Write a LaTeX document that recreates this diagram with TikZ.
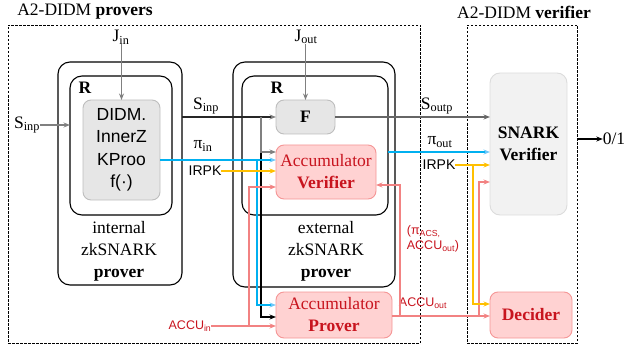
\documentclass[tikz,border=0pt]{standalone}
\usepackage{fontspec}
\setmainfont{Liberation Serif}
\setsansfont{Liberation Sans}
\usetikzlibrary{positioning, arrows.meta}
\definecolor{redtx}{RGB}{200,20,30}
\definecolor{pinkln}{RGB}{242,130,130}
\definecolor{pinkfl}{RGB}{255,210,210}
\definecolor{pinkbd}{RGB}{245,150,150}
\definecolor{bluln}{RGB}{0,176,240}
\definecolor{blutip}{RGB}{110,200,250}
\definecolor{orgln}{RGB}{255,192,0}
\definecolor{grayfl}{RGB}{230,230,230}
\definecolor{graybd}{RGB}{190,190,190}
\definecolor{snarkfl}{RGB}{242,242,242}
\definecolor{snarkbd}{RGB}{220,220,220}

\begin{document}
\begin{tikzpicture}[x=1pt, y=-1pt,
  every node/.style={font=\fontsize{17.5}{22}\selectfont, inner sep=0pt, outer sep=0pt},
  frame/.style={draw, line width=0.7pt, dash pattern=on 2.5pt off 1.5pt},
  wrap/.style={draw, line width=1.1pt, rounded corners=12pt},
  grybox/.style={draw=graybd, fill=grayfl, line width=0.9pt, rounded corners=8pt, align=center},
  snarkbox/.style={draw=snarkbd, fill=snarkfl, line width=0.9pt, rounded corners=10pt, align=center},
  accbox/.style={draw=pinkbd, fill=pinkfl, line width=0.9pt, rounded corners=8pt, align=center, text=redtx},
  lbl/.style={align=center},
  sml/.style={font=\sffamily\fontsize{14}{16}\selectfont},
  acl/.style={font=\sffamily\fontsize{12.5}{15}\selectfont, text=redtx},
  karr/.style={-{Stealth[length=6.5pt, width=5pt]}, line width=1.2pt},
  garr/.style={-{Stealth[length=6.5pt, width=5pt, color=gray]}, line width=1.2pt, draw=gray},
  sarr/.style={-{Stealth[length=6.5pt, width=5pt, color=gray]}, line width=1.2pt, draw=black!85},
  barr/.style={-{Stealth[length=6.5pt, width=5pt, color=blutip]}, line width=1.2pt, draw=bluln},
  oarr/.style={-{Stealth[length=6.5pt, width=5pt]}, line width=1.2pt, draw=orgln},
  parr/.style={-{Stealth[length=6.5pt, width=5pt]}, line width=1.2pt, draw=pinkln}
]
\useasboundingbox (0,0) rectangle (629,350);

% frames and titles
\node[frame, minimum width=412pt, minimum height=318pt] (provbox) at (214,184) {};
\node[frame, minimum width=110pt, minimum height=318pt] (verbox) at (522,184) {};
\node (provtitle) at (85,12) {A2-DIDM \textbf{provers}};
\node (vertitle) at (524,12) {A2-DIDM \textbf{verifier}};

% internal prover
\node[wrap, minimum width=124pt, minimum height=223pt] (intout) at (120,173.5) {};
\node[wrap, minimum width=102pt, minimum height=139pt] (intr) at (121,145.5) {};
\node[grybox, font=\sffamily\fontsize{17.5}{22.5}\selectfont, minimum width=77pt, minimum height=100pt] (didm) at (121.5,150) {DIDM.\\InnerZ\\KProo\\f(·)};
\node (intrlbl) at (85,88) {\textbf{R}};
\node[lbl] (intlbl) at (119,251) {internal\\zkSNARK\\\textbf{prover}};

% external prover
\node[wrap, minimum width=162pt, minimum height=225pt] (extout) at (314,174.5) {};
\node[wrap, minimum width=146pt, minimum height=139pt] (extr) at (315,145.5) {};
\node[grybox, minimum width=59pt, minimum height=34pt] (fbox) at (305.5,117) {\textbf{F}};
\node[accbox, minimum width=100pt, minimum height=54pt] (accv) at (326,172) {Accumulator\\\textbf{Verifier}};
\node (extrlbl) at (277,88) {\textbf{R}};
\node[lbl] (extlbl) at (326,251) {external\\zkSNARK\\\textbf{prover}};
\node[accbox, minimum width=116pt, minimum height=46pt] (accp) at (334,315) {Accumulator\\\textbf{Prover}};

% verifier side
\node[snarkbox, minimum width=77pt, minimum height=142pt] (snark) at (528.5,144) {\textbf{SNARK}\\\textbf{Verifier}};
\node[accbox, minimum width=82pt, minimum height=46pt] (decider) at (531,315) {\textbf{Decider}};
\node (result) at (614,139) {0/1};

% labels
\node (jin) at (121,37) {J\textsubscript{in}};
\node (jout) at (306,37) {J\textsubscript{out}};
\node (sinl) at (27,125) {S\textsubscript{inp}};
\node (sinm) at (206,106) {S\textsubscript{inp}};
\node (soutp) at (437,106) {S\textsubscript{outp}};
\node (piin) at (203,146) {π\textsubscript{in}};
\node (piout) at (440,142) {π\textsubscript{out}};
\node[sml] (irpka) at (205,171) {IRPK};
\node[sml] (irpkb) at (439,165) {IRPK};
\node[acl] (accuin) at (190,326) {ACCU\textsubscript{in}};
\node[acl] (accuout) at (423,303) {ACCU\textsubscript{out}};
\node[acl, align=left] (acslbl) at (433,239) {(π\textsubscript{ACS,}\\ACCU\textsubscript{out})};

% branch points
\coordinate (sbr) at (261,117);
\coordinate (bbr) at (257,160);
\coordinate (pbra) at (249,326);
\coordinate (pbrb) at (400,316);
\coordinate (pbrc) at (479,316);
\coordinate (obr) at (473,165);

% connectors
\draw[garr] (jin.south -| didm.north) -- (didm.north);
\draw[garr] (jout.south -| fbox.north) -- (fbox.north);
\draw[garr] (sinl) -- (sinl -| intr.west);
\draw[sarr] (intout.east |- fbox.west) -- (fbox.west);
\draw[karr] (sbr) |- ([yshift=-2pt]accp.west);
\draw[garr] (sbr) |- ([yshift=20pt]accv.west);
\draw[barr] ([yshift=-10pt]didm.east) -- ([yshift=-10pt]didm.east -| accv.west);
\draw[barr] (bbr) |- ([yshift=10pt]accp.west);
\draw[oarr] (irpka) -- (irpka -| accv.west);
\draw[parr] (accuin) -- (accuin -| accp.west);
\draw[parr] (pbra) |- ([yshift=-15pt]accv.west);
\draw[parr] ([yshift=-1pt]accp.east) -- ([yshift=-1pt]decider.west);
\draw[parr] (pbrb) |- ([yshift=-13pt]accv.east);
\draw[parr] (pbrc) |- ([yshift=-38pt]snark.west);
\draw[karr, draw=gray!80!black] (fbox.east) -- (fbox.east -| snark.west);
\draw[barr] ([yshift=-6.5pt]extr.east) -- ([yshift=-6.5pt]extr.east -| snark.west);
\draw[oarr] (irpkb) -- (irpkb -| snark.west);
\draw[oarr] (obr) |- ([yshift=11pt]decider.west);
\draw[karr] (result -| verbox.east) -- (result.west);
\end{tikzpicture}
\end{document}
